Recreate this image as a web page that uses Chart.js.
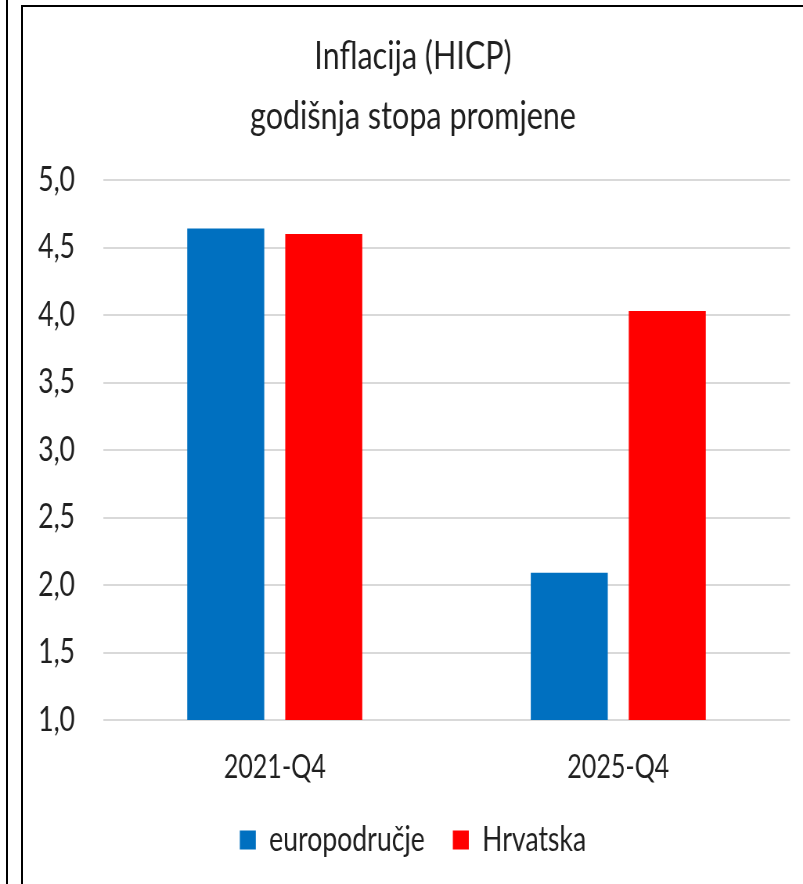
<!DOCTYPE html>
<html>
<head>
<meta charset="utf-8">
<script src="https://cdn.jsdelivr.net/npm/chart.js@4"></script>
<style>
  html, body { margin: 0; padding: 0; background: #fff; }
  body { width: 803px; height: 884px; position: relative; overflow: hidden; }
  #leftLine { position: absolute; left: 6px; top: 0; width: 2px; height: 884px; background: #000; }
  #frame { position: absolute; left: 21px; top: 5px; width: 900px; height: 900px;
           border-left: 2px solid #000; border-top: 2px solid #000; }
  #wrap { position: absolute; left: 36px; top: 8px; transform-origin: 0 0; }
  canvas { display: block; }
</style>
</head>
<body>
<div id="leftLine"></div>
<div id="frame"></div>
<div id="wrap"><canvas id="c"></canvas></div>
<script>
const categories = ['2021-Q4', '2025-Q4'];
const seriesNames = ['europodručje', 'Hrvatska'];
const euroArea = [4.64, 2.09];
const croatia = [4.60, 4.03];
const titleLines = ['Inflacija (HICP)', 'godišnja stopa promjene'];
const yMin = 1.0, yMax = 5.0, yStep = 0.5;

const FONT = "Lato, 'Open Sans', sans-serif";
const textColor = '#1f1f1f';

// text measuring, used to reproduce the horizontally squeezed look of the original
const mctx = document.createElement('canvas').getContext('2d');
function measure(text, size) { mctx.font = `${size}px ${FONT}`; return mctx.measureText(text).width; }

const CANVAS_LEFT = 36;                    // page x of canvas left edge
const PAGE_W = 803 - CANVAS_LEFT, PAGE_H = 876;
const titleSize = 39;
const s = 326 / measure(titleLines[1], titleSize);   // horizontal squeeze factor
const W = Math.round(PAGE_W / s), H = PAGE_H;

const legendSize = Math.min(34, 30 * (159 / s) / measure(seriesNames[0], 30));
const xTickSize  = Math.min(34, 30 * (102 / s) / measure(categories[0], 30));
const yTickSize  = Math.min(34, 30 * (37 / s) / measure('5,0', 30));

const chartBottom = 712;                  // canvas y of the 1,0 grid line
const xLabelCenter = 760;
const xPad = xLabelCenter - chartBottom - 0.6 * xTickSize;
const xAxisH = xPad + 1.2 * xTickSize;
const legendItemH = Math.max(legendSize, 19);
const legendCenter = 832;
const legendPad = legendCenter - (chartBottom + xAxisH) - legendItemH / 2;
const legendH = legendItemH + legendPad + 10;
const padBottom = H - chartBottom - xAxisH - legendH;

const cv = document.getElementById('c');
cv.width = W; cv.height = H;
cv.style.width = W + 'px'; cv.style.height = H + 'px';
document.getElementById('wrap').style.transform = `scaleX(${s})`;

new Chart(cv, {
  type: 'bar',
  data: {
    labels: categories,
    datasets: [
      { label: seriesNames[0], data: euroArea, backgroundColor: '#0070C0', borderWidth: 0,
        categoryPercentage: 0.5706, barPercentage: 0.786 },
      { label: seriesNames[1], data: croatia, backgroundColor: '#FF0000', borderWidth: 0,
        categoryPercentage: 0.5706, barPercentage: 0.786 }
    ]
  },
  options: {
    responsive: false,
    animation: false,
    devicePixelRatio: 1,
    layout: { padding: { left: 0, right: 13 / s, top: 0, bottom: padBottom } },
    plugins: {
      title: {
        display: true,
        text: titleLines,
        color: textColor,
        font: { family: FONT, size: titleSize, weight: 'normal', lineHeight: 60 / titleSize },
        padding: { top: 18, bottom: 34 }
      },
      legend: {
        position: 'bottom',
        labels: {
          color: textColor,
          font: { family: FONT, size: legendSize },
          boxWidth: 16 / s,
          boxHeight: 19,
          padding: legendPad
        }
      },
      tooltip: { enabled: false }
    },
    scales: {
      x: {
        grid: { display: false, drawTicks: false },
        border: { display: false },
        ticks: { color: textColor, font: { family: FONT, size: xTickSize }, padding: xPad },
        afterFit: axis => { axis.height = xAxisH; }
      },
      y: {
        min: yMin,
        max: yMax,
        grid: { color: '#d9d9d9', lineWidth: 2, drawTicks: false },
        border: { display: false },
        ticks: {
          stepSize: yStep,
          color: textColor,
          font: { family: FONT, size: yTickSize },
          padding: 28 / s,
          callback: v => Number(v).toFixed(1).replace('.', ',')
        },
        afterFit: axis => { axis.width = (103 - CANVAS_LEFT) / s; }
      }
    }
  }
});
</script>
</body>
</html>
